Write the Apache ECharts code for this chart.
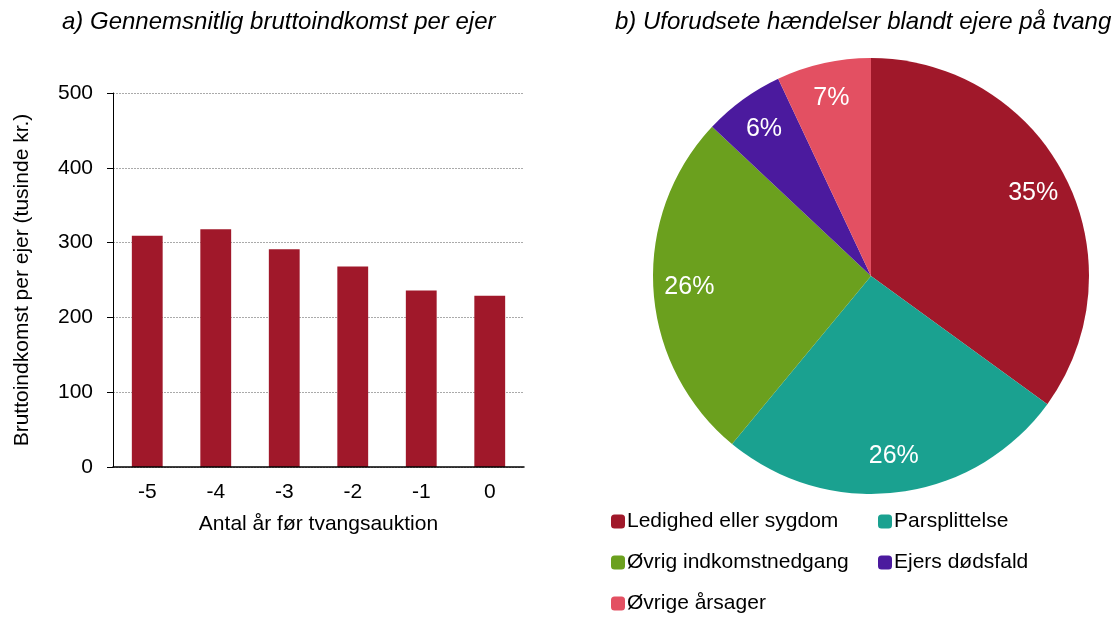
<!DOCTYPE html>
<html>
<head>
<meta charset="utf-8">
<script src="https://cdn.jsdelivr.net/npm/echarts@6/dist/echarts.min.js"></script>
<style>
  html, body { margin: 0; padding: 0; background: #fff; }
  #chart { width: 1114px; height: 617px; }
</style>
</head>
<body>
<div id="chart"></div>
<script>
  // data
  const years = ['-5', '-4', '-3', '-2', '-1', '0']
  const income = [309, 318, 291, 268, 236, 229]
  const causes = ['Ledighed eller sygdom', 'Parsplittelse', 'Øvrig indkomstnedgang', 'Ejers dødsfald', 'Øvrige årsager']
  const shares = [35, 26, 26, 6, 7]
  const causeColors = ['#A0182A', '#1AA190', '#6BA01E', '#4B1A9E', '#E35062']

  const font = 'Liberation Sans, Arial, sans-serif'
  const chart = echarts.init(document.getElementById('chart'))

  const pieData = causes.map(function (name, i) {
    return { name: name, value: shares[i], itemStyle: { color: causeColors[i] } }
  })

  const legendText = { fontFamily: font, fontSize: 21, lineHeight: 21, color: '#000', padding: [0, 0, 0, -3] }

  const option = {
    textStyle: { fontFamily: font },
    animation: false,
    title: [
      {
        text: 'a) Gennemsnitlig bruttoindkomst per ejer',
        left: 57, top: 5,
        textStyle: { fontFamily: font, fontStyle: 'italic', fontWeight: 'normal', fontSize: 24, color: '#000' }
      },
      {
        text: 'b) Uforudsete hændelser blandt ejere på tvang',
        left: 610, top: 5,
        textStyle: { fontFamily: font, fontStyle: 'italic', fontWeight: 'normal', fontSize: 24, color: '#000' }
      }
    ],
    legend: [
      {
        data: [causes[0], causes[2], causes[4]],
        orient: 'vertical', left: 611, top: 511, padding: 0,
        itemWidth: 14, itemHeight: 14, itemGap: 20,
        icon: 'roundRect',
        textStyle: legendText
      },
      {
        data: [causes[1], causes[3]],
        orient: 'vertical', left: 878, top: 511, padding: 0,
        itemWidth: 14, itemHeight: 14, itemGap: 20,
        icon: 'roundRect',
        textStyle: legendText
      }
    ],
    grid: { left: 113, right: 590, top: 93, bottom: 150 },
    xAxis: {
      type: 'category',
      data: years,
      name: 'Antal år før tvangsauktion',
      nameLocation: 'middle',
      nameGap: 47,
      nameTextStyle: { fontSize: 21, color: '#000', fontFamily: font },
      axisLine: { lineStyle: { color: '#000', width: 1.5 } },
      axisTick: { length: 6, lineStyle: { color: '#000' } },
      axisLabel: { fontSize: 21, color: '#000', margin: 15, fontFamily: font },
      z: 5
    },
    yAxis: {
      type: 'value',
      min: 0, max: 500, interval: 100,
      name: 'Bruttoindkomst per ejer (tusinde kr.)',
      nameLocation: 'middle',
      nameGap: 80,
      nameTextStyle: { fontSize: 21, color: '#000', fontFamily: font },
      axisLine: { show: true, lineStyle: { color: '#000', width: 1 } },
      axisTick: { show: true, length: 6, lineStyle: { color: '#000' } },
      axisLabel: { fontSize: 21, color: '#000', margin: 20, fontFamily: font },
      splitLine: { lineStyle: { color: '#aaa', type: [2, 1], width: 1 } }
    },
    series: [
      {
        type: 'bar',
        data: income,
        barWidth: '45%',
        itemStyle: { color: '#A0182A' }
      },
      {
        type: 'pie',
        center: [871, 276],
        radius: [0, 218],
        startAngle: 90,
        clockwise: true,
        data: pieData,
        label: { show: false },
        labelLine: { show: false },
        emphasis: { disabled: true }
      },
      {
        // label ring so the percentages sit near the rim as in the reference
        type: 'pie',
        center: [871, 276],
        radius: [140, 218],
        startAngle: 90,
        clockwise: true,
        silent: true,
        data: causes.map(function (name, i) { return { name: name, value: shares[i] } }),
        itemStyle: { color: 'rgba(0,0,0,0)' },
        label: {
          show: true, position: 'inside',
          formatter: '{c}%',
          color: '#fff', fontSize: 25, fontFamily: font
        },
        labelLine: { show: false },
        emphasis: { disabled: true }
      }
    ]
  }

  chart.setOption(option)
  window.addEventListener('resize', function () {
    chart.resize()
  })
</script>
</body>
</html>
